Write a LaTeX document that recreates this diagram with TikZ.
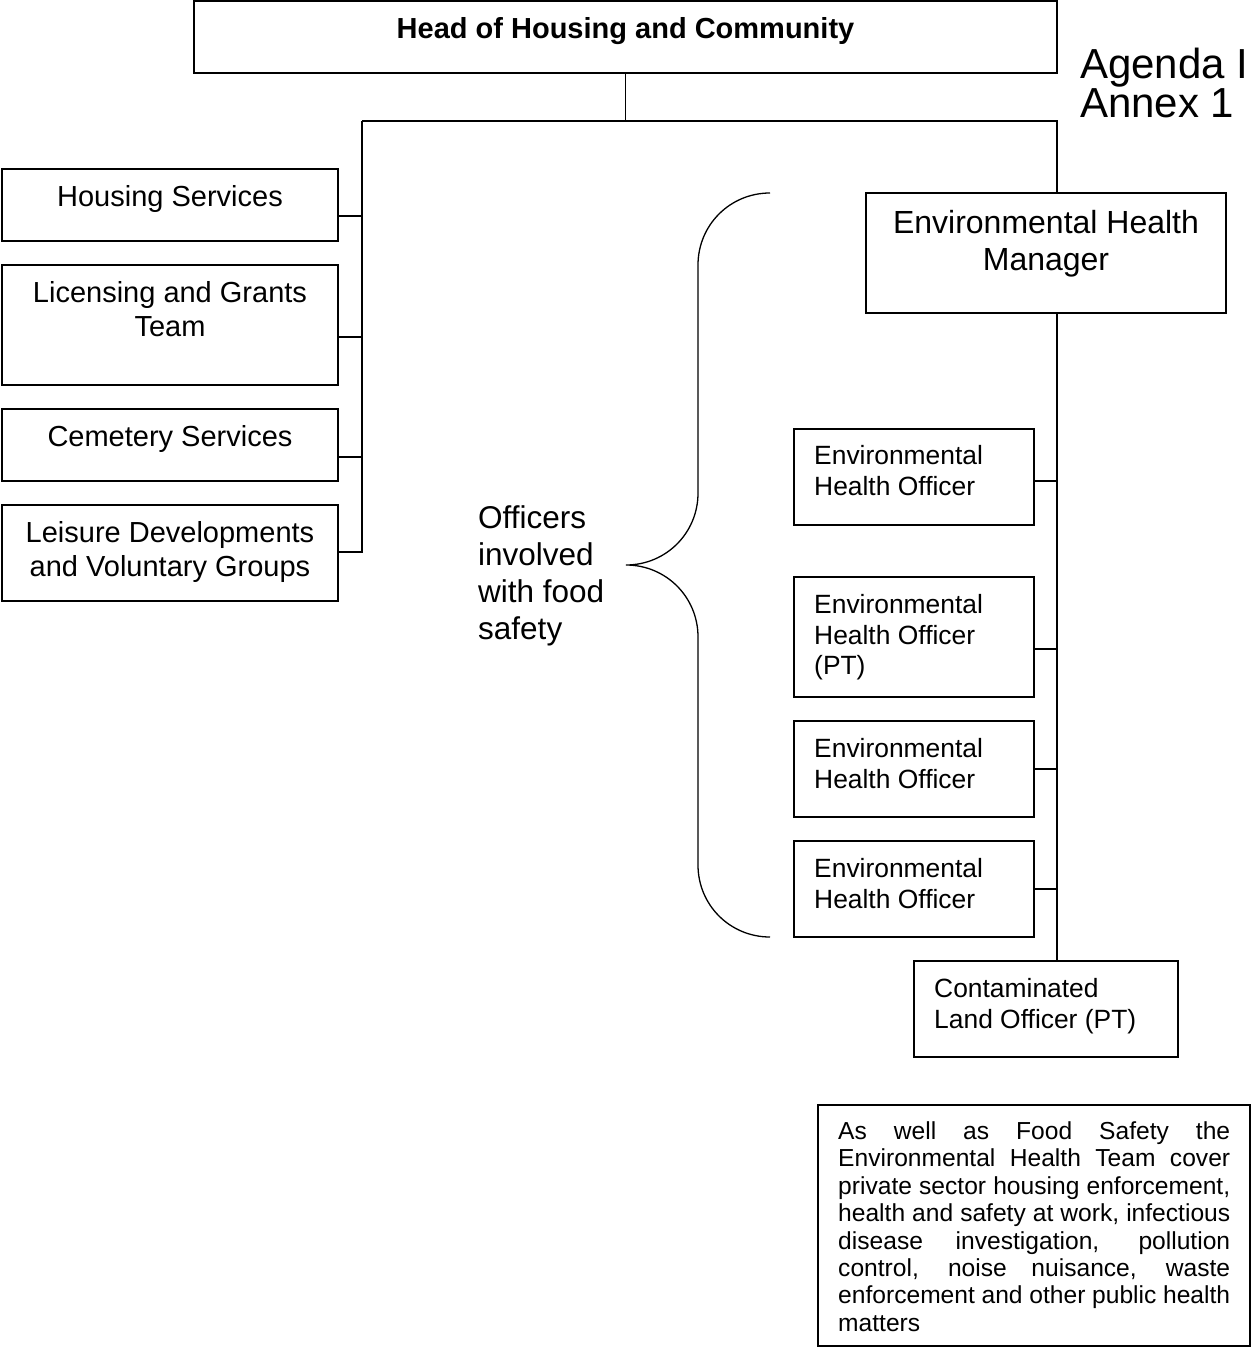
\documentclass[tikz,border=0pt]{standalone}
\usepackage{fontspec}
\setmainfont{Liberation Sans}
\usetikzlibrary{positioning}

\begin{document}
\begin{tikzpicture}[x=1pt,y=-1pt,
    orgbox/.style={draw, line width=1.3pt, rectangle, anchor=north west, inner sep=0pt, outer sep=0pt},
    wire/.style={line width=1.3pt},
    boxtext/.style={inner sep=0pt, align=center, anchor=north},
    lefttext/.style={inner sep=0pt, align=left, anchor=north west}]
  \useasboundingbox (0,0) rectangle (1251,1348);
  \def\bigF{\fontsize{29}{34}\selectfont}
  \def\smallF{\fontsize{26.4}{30.8}\selectfont}

  % Head box
  \node[orgbox, minimum width=863pt, minimum height=72pt] (head) at (194,1) {};
  \node[boxtext, font=\bfseries\fontsize{29}{34}\selectfont] (headT) at (625.5,17.3) {Head of Housing and Community};
  \node[lefttext, font=\fontsize{42}{36}\selectfont] (agenda) at (1080,48) {Agenda I\\Annex 1};

  % Left column
  \node[orgbox, minimum width=336pt, minimum height=72pt] (hsg) at (2,169) {};
  \node[orgbox, minimum width=336pt, minimum height=120pt] (lic) at (2,265) {};
  \node[orgbox, minimum width=336pt, minimum height=72pt] (cem) at (2,409) {};
  \node[orgbox, minimum width=336pt, minimum height=96pt] (lei) at (2,505) {};
  \node[boxtext, font=\bigF] (hsgT) at (170,184.8) {Housing Services};
  \node[boxtext, font=\bigF] (licT) at (170,280.8) {Licensing and Grants\\Team};
  \node[boxtext, font=\bigF] (cemT) at (170,425) {Cemetery Services};
  \node[boxtext, font=\bigF] (leiT) at (170,521) {Leisure Developments\\and Voluntary Groups};

  % Right column
  \node[orgbox, minimum width=360pt, minimum height=120pt] (ehm) at (866,193) {};
  \node[boxtext, font=\fontsize{32}{37}\selectfont] (ehmT) at (1046,210.5) {Environmental Health\\Manager};
  \node[orgbox, minimum width=240pt, minimum height=96pt] (eho1) at (794,429) {};
  \node[orgbox, minimum width=240pt, minimum height=120pt] (eho2) at (794,577) {};
  \node[orgbox, minimum width=240pt, minimum height=96pt] (eho3) at (794,721) {};
  \node[orgbox, minimum width=240pt, minimum height=96pt] (eho4) at (794,841) {};
  \node[orgbox, minimum width=264pt, minimum height=96pt] (clo) at (914,961) {};
  \node[lefttext, font=\smallF] (eho1T) at (814,445.5) {Environmental\\Health Officer};
  \node[lefttext, font=\smallF] (eho2T) at (814,594) {Environmental\\Health Officer\\(PT)};
  \node[lefttext, font=\smallF] (eho3T) at (814,738) {Environmental\\Health Officer};
  \node[lefttext, font=\smallF] (eho4T) at (814,858) {Environmental\\Health Officer};
  \node[lefttext, font=\smallF] (cloT) at (934,978) {Contaminated\\Land Officer (PT)};

  % Connectors
  \coordinate (lspine) at (362,121);
  \coordinate (rspine) at (1057,121);
  \draw[wire] (head.south) -- (head.south |- lspine);
  \draw[wire] (lspine) -- (rspine) -- (rspine |- ehm.north);
  \draw[wire] (lspine) -- (lspine |- lei.east);
  \foreach \b/\y in {hsg/216, lic/337, cem/457, lei/552} {
    \coordinate (l\b) at (362,\y);
    \draw[wire] (l\b) -- (l\b -| \b.east);
  }
  \draw[wire] (rspine |- ehm.south) -- (rspine |- clo.north);
  \foreach \b/\y in {eho1/481, eho2/649, eho3/769, eho4/889} {
    \coordinate (r\b) at (1057,\y);
    \draw[wire] (r\b) -- (r\b -| \b.east);
  }

  % Brace
  \draw[line width=1.3pt] (770,193) .. controls (730,193) and (698,225) .. (698,265) -- (698,493)
    .. controls (698,533) and (666,565) .. (626,565)
    .. controls (666,565) and (698,597) .. (698,637) -- (698,865)
    .. controls (698,905) and (730,937) .. (770,937);
  \node[lefttext, font=\fontsize{31.5}{37}\selectfont] (food) at (478,505) {Officers\\involved\\with food\\safety};

  % Note
  \node[orgbox, line width=1.1pt, minimum width=432pt, minimum height=241pt] (note) at (818,1105) {};
  \node[lefttext, font=\fontsize{24.6}{27.4}\selectfont] (noteT) at (838,1121.5) {%
    \makebox[392pt][s]{As well as Food Safety the}\\
    \makebox[392pt][s]{Environmental Health Team cover}\\
    \makebox[392pt][s]{private sector housing enforcement,}\\
    \makebox[392pt][s]{health and safety at work, infectious}\\
    \makebox[392pt][s]{disease investigation, pollution}\\
    \makebox[392pt][s]{control, noise nuisance, waste}\\
    \makebox[392pt][s]{enforcement and other public health}\\
    matters};
\end{tikzpicture}
\end{document}
